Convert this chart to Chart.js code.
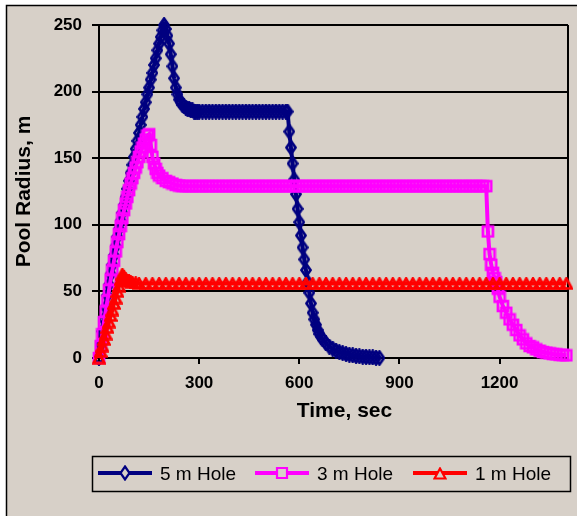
<!DOCTYPE html>
<html>
<head>
<meta charset="utf-8">
<title>Pool Radius vs Time</title>
<script src="https://cdn.jsdelivr.net/npm/chart.js@4.4.1/dist/chart.umd.min.js"></script>
<style>
  html, body { margin: 0; padding: 0; background: #fff; }
  #wrap { width: 577px; height: 516px; }
</style>
</head>
<body>
<div id="wrap"><canvas id="poolChart" width="577" height="516"></canvas></div>
<script>
/* ===== Data ===== */
const seriesLabels = ["5 m Hole", "3 m Hole", "1 m Hole"];
const xTicks = [0, 300, 600, 900, 1200];
const yTicks = [0, 50, 100, 150, 200, 250];
const xTitle = "Time, sec";
const yTitle = "Pool Radius, m";

// 5 m hole
const time5m = [
  0, 5, 10, 15, 20, 25, 30, 35, 40, 45, 50, 55, 60, 65, 70, 75, 80, 85, 90, 95,
  100, 105, 110, 115, 120, 125, 130, 135, 140, 145, 150, 155, 160, 165, 170, 175, 180, 185, 190, 195,
  200, 205, 210, 215, 220, 225, 230, 235, 240, 245, 250, 255, 260, 265, 270, 275, 280, 285, 290, 295,
  300, 310, 320, 330, 340, 350, 360, 370, 380, 390, 400, 410, 420, 430, 440, 450, 460, 470, 480, 490,
  500, 510, 520, 530, 540, 550, 560,
  565, 570, 575, 580, 585, 590, 595, 600, 605, 610, 615, 620, 625, 630, 635, 640, 645, 650, 655, 660,
  665, 670, 680, 690, 700, 710, 720, 730, 740, 750, 760, 770, 780, 790, 800, 810, 820, 830, 840
];
const radius5m = [
  0, 10, 20, 29, 38, 47, 55, 63, 70, 77, 84, 91, 97, 103, 109, 115, 121, 127, 133, 139,
  145, 151, 157, 163, 169, 175, 181, 187, 192, 198, 203, 209, 214, 220, 225, 231, 236, 241, 246, 250,
  247, 242, 236, 228, 219, 210, 203, 198, 194, 192, 190, 189, 188, 187, 187, 186, 186, 185, 185, 185,
  185, 185, 185, 185, 185, 185, 185, 185, 185, 185, 185, 185, 185, 185, 185, 185, 185, 185, 185, 185,
  185, 185, 185, 185, 185, 185, 185,
  185, 170, 158, 146, 134, 123, 112, 102, 92, 83, 74, 66, 57, 49, 41, 34, 29, 25, 21, 18,
  16, 14, 11, 8.5, 7, 5.5, 4.5, 3.7, 3, 2.5, 2, 1.6, 1.3, 1, 0.8, 0.6, 0.4, 0.2, 0
];

// 3 m hole
const time3m = [
  0, 5, 10, 15, 20, 25, 30, 35, 40, 45, 50, 55, 60, 65, 70, 75, 80, 85, 90, 95,
  100, 105, 110, 115, 120, 125, 130, 135, 140, 145,
  150, 155, 160, 165, 170, 175, 180, 190, 200, 210, 220, 230, 240,
  250, 260, 270, 280, 290, 300, 310, 320, 330, 340, 350, 360, 370, 380, 390, 400, 410, 420, 430, 440,
  450, 460, 470, 480, 490, 500, 510, 520, 530, 540, 550, 560, 570, 580, 590, 600, 610, 620, 630, 640,
  650, 660, 670, 680, 690, 700, 710, 720, 730, 740, 750, 760, 770, 780, 790, 800, 810, 820, 830, 840,
  850, 860, 870, 880, 890, 900, 910, 920, 930, 940, 950, 960, 970, 980, 990, 1000, 1010, 1020, 1030,
  1040, 1050, 1060, 1070, 1080, 1090, 1100, 1110, 1120, 1130, 1140, 1150,
  1160, 1165, 1170, 1175, 1180, 1185, 1190, 1195, 1200, 1210, 1220, 1230, 1240, 1250, 1260, 1270,
  1280, 1290, 1300, 1310, 1320, 1330, 1340, 1350, 1360, 1370, 1380, 1390, 1400
];
const radius3m = [
  0, 9, 18, 27, 35, 43, 51, 59, 66, 73, 80, 87, 93, 99, 105, 111, 116, 121, 126, 131,
  135, 139, 143, 147, 151, 155, 158, 161, 164, 167,
  168, 160, 151, 146, 142, 139, 137, 135, 133, 132, 131, 130, 129.5,
  129, 129, 129, 129, 129, 129, 129, 129, 129, 129, 129, 129, 129, 129, 129, 129, 129, 129, 129, 129,
  129, 129, 129, 129, 129, 129, 129, 129, 129, 129, 129, 129, 129, 129, 129, 129, 129, 129, 129, 129,
  129, 129, 129, 129, 129, 129, 129, 129, 129, 129, 129, 129, 129, 129, 129, 129, 129, 129, 129, 129,
  129, 129, 129, 129, 129, 129, 129, 129, 129, 129, 129, 129, 129, 129, 129, 129, 129, 129, 129,
  129, 129, 129, 129, 129, 129, 129, 129, 129, 129, 129, 129,
  129, 95, 78, 70, 64, 60, 57, 52, 46, 39, 34, 29, 25, 21, 17, 14,
  11, 9, 8, 6.5, 5.5, 4.5, 4, 3.5, 3, 2.7, 2.4, 2.2, 2
];

// 1 m hole
const time1m = [
  0, 5, 10, 15, 20, 25, 30, 35, 40, 45, 50, 55, 60, 65, 70,
  75, 80, 85, 90, 95, 100, 110, 120,
  140, 160, 180, 200, 220, 240, 260, 280, 300, 320, 340, 360, 380, 400, 420, 440, 460, 480, 500, 520,
  540, 560, 580, 600, 620, 640, 660, 680, 700, 720, 740, 760, 780, 800, 820, 840, 860, 880, 900, 920,
  940, 960, 980, 1000, 1020, 1040, 1060, 1080, 1100, 1120, 1140, 1160, 1180, 1200, 1220, 1240, 1260,
  1280, 1300, 1320, 1340, 1360, 1380, 1400
];
const radius1m = [
  0, 5, 9, 14, 18, 23, 27, 32, 36, 41, 45, 50, 54, 59, 63,
  61, 59.5, 58.5, 58, 57.5, 57, 56.5, 56,
  56, 56, 56, 56, 56, 56, 56, 56, 56, 56, 56, 56, 56, 56, 56, 56, 56, 56, 56, 56,
  56, 56, 56, 56, 56, 56, 56, 56, 56, 56, 56, 56, 56, 56, 56, 56, 56, 56, 56, 56,
  56, 56, 56, 56, 56, 56, 56, 56, 56, 56, 56, 56, 56, 56, 56, 56, 56, 56, 56,
  56, 56, 56, 56, 56, 56, 56
];

/* ===== Style ===== */
const FONT = '"Liberation Sans", Arial, sans-serif';
const BG = "#d7d0c8";
const seriesColors = ["#000080", "#ff00ff", "#ff0000"];
const markerKinds = ["diamond", "square", "triangle"];

function makeMarker(kind, color, fill, width) {
  const c = document.createElement("canvas");
  if (kind === "diamond") { c.width = 12; c.height = 16; }
  else if (kind === "square") { c.width = 14; c.height = 14; }
  else { c.width = 14; c.height = 13; }
  const ctx = c.getContext("2d");
  ctx.strokeStyle = color;
  ctx.lineWidth = width;
  ctx.beginPath();
  if (kind === "diamond") {
    ctx.moveTo(6, 1.5); ctx.lineTo(10.5, 8); ctx.lineTo(6, 14.5); ctx.lineTo(1.5, 8);
  } else if (kind === "square") {
    ctx.rect(2, 2, 10, 10);
  } else {
    ctx.moveTo(7, 1.5); ctx.lineTo(12.5, 11.5); ctx.lineTo(1.5, 11.5);
  }
  ctx.closePath();
  if (fill) { ctx.fillStyle = fill; ctx.fill(); }
  ctx.stroke();
  return c;
}

const plotMarkers = markerKinds.map((k, i) => makeMarker(k, seriesColors[i], null, 2.7));
const legendMarkers = markerKinds.map((k, i) => makeMarker(k, seriesColors[i], BG, 2.2));

function toPoints(times, values) {
  return times.map((t, i) => ({ x: t, y: values[i] }));
}

/* ===== Plugins ===== */
const framePlugin = {
  id: "frame",
  beforeDraw(chart) {
    const { ctx, width, height } = chart;
    ctx.save();
    ctx.fillStyle = "#ffffff";
    ctx.fillRect(0, 0, width, height);
    ctx.fillStyle = BG;
    ctx.fillRect(6, 5, width - 6, height - 5);
    ctx.strokeStyle = "#000";
    ctx.lineWidth = 1.5;
    ctx.beginPath();
    ctx.moveTo(6.5, height);
    ctx.lineTo(6.5, 5.5);
    ctx.lineTo(width, 5.5);
    ctx.stroke();
    ctx.restore();
  },
  beforeDatasetsDraw(chart) {
    // right edge of the plot box
    const { ctx, chartArea } = chart;
    ctx.save();
    ctx.strokeStyle = "#000";
    ctx.lineWidth = 2;
    ctx.beginPath();
    ctx.moveTo(chartArea.right, chartArea.top);
    ctx.lineTo(chartArea.right, chartArea.bottom);
    ctx.stroke();
    ctx.restore();
  },
  afterDraw(chart) {
    // x axis title, sits a little right of the plot centre like the original
    const { ctx } = chart;
    ctx.save();
    ctx.fillStyle = "#000";
    ctx.font = `bold 21px ${FONT}`;
    ctx.textAlign = "center";
    ctx.textBaseline = "alphabetic";
    ctx.fillText(xTitle, 344.5, 417);
    ctx.restore();
  },
};

const boxLegendPlugin = {
  id: "boxLegend",
  afterDraw(chart) {
    const { ctx } = chart;
    const box = { left: 92, top: 456, right: 570, bottom: 491 };
    const itemX = [98, 255, 413];
    const midY = 473;
    ctx.save();
    ctx.strokeStyle = "#000";
    ctx.lineWidth = 1.5;
    ctx.strokeRect(box.left + 0.5, box.top + 0.5, box.right - box.left, box.bottom - box.top);
    seriesLabels.forEach((label, i) => {
      const x0 = itemX[i];
      ctx.strokeStyle = seriesColors[i];
      ctx.lineWidth = 4;
      ctx.beginPath();
      ctx.moveTo(x0, midY);
      ctx.lineTo(x0 + 54, midY);
      ctx.stroke();
      const m = legendMarkers[i];
      ctx.drawImage(m, Math.round(x0 + 27 - m.width / 2), Math.round(midY - m.height / 2));
      ctx.fillStyle = "#000";
      ctx.font = `19px ${FONT}`;
      ctx.textBaseline = "alphabetic";
      ctx.fillText(label, x0 + 62, midY + 7);
    });
    ctx.restore();
  },
};

/* ===== Chart ===== */
const tickFont = { family: FONT, size: 17, weight: "bold" };
const titleFont = { family: FONT, size: 21, weight: "bold" };
const allTimes = [time5m, time3m, time1m];
const allRadii = [radius5m, radius3m, radius1m];

new Chart(document.getElementById("poolChart"), {
  type: "line",
  data: {
    datasets: seriesLabels.map((label, i) => ({
      label,
      data: toPoints(allTimes[i], allRadii[i]),
      borderColor: seriesColors[i],
      backgroundColor: seriesColors[i],
      borderWidth: 4,
      pointStyle: plotMarkers[i],
      pointRadius: 5,
      pointHoverRadius: 5,
      tension: 0,
      clip: false,
      order: 3 - i,
    })),
  },
  options: {
    responsive: false,
    animation: false,
    events: [],
    layout: { padding: { left: 0, top: 25, right: 5, bottom: 92 } },
    plugins: { legend: { display: false }, tooltip: { enabled: false } },
    scales: {
      x: {
        type: "linear",
        min: 0,
        max: 1405,
        afterBuildTicks: (scale) => { scale.ticks = xTicks.map((v) => ({ value: v })); },
        afterFit: (scale) => { scale.height = 66; },
        ticks: {
          font: tickFont, color: "#000", padding: 9, maxRotation: 0, autoSkip: false,
          callback: (v) => String(v),
        },
        grid: { drawOnChartArea: false, drawTicks: true, tickLength: 6, color: "#000", lineWidth: 2 },
        border: { display: true, color: "#000", width: 2 },
        title: { display: false },
      },
      y: {
        type: "linear",
        min: 0,
        max: 250,
        afterBuildTicks: (scale) => { scale.ticks = yTicks.map((v) => ({ value: v })); },
        afterFit: (scale) => { scale.width = 99; },
        ticks: { font: tickFont, color: "#000", padding: 10, callback: (v) => String(v) },
        grid: { drawOnChartArea: true, drawTicks: true, tickLength: 7, color: "#000", lineWidth: 2 },
        border: { display: true, color: "#000", width: 2 },
        title: { display: true, text: yTitle, font: titleFont, color: "#000", padding: { top: 12, bottom: 0 } },
      },
    },
  },
  plugins: [framePlugin, boxLegendPlugin],
});
</script>
</body>
</html>
